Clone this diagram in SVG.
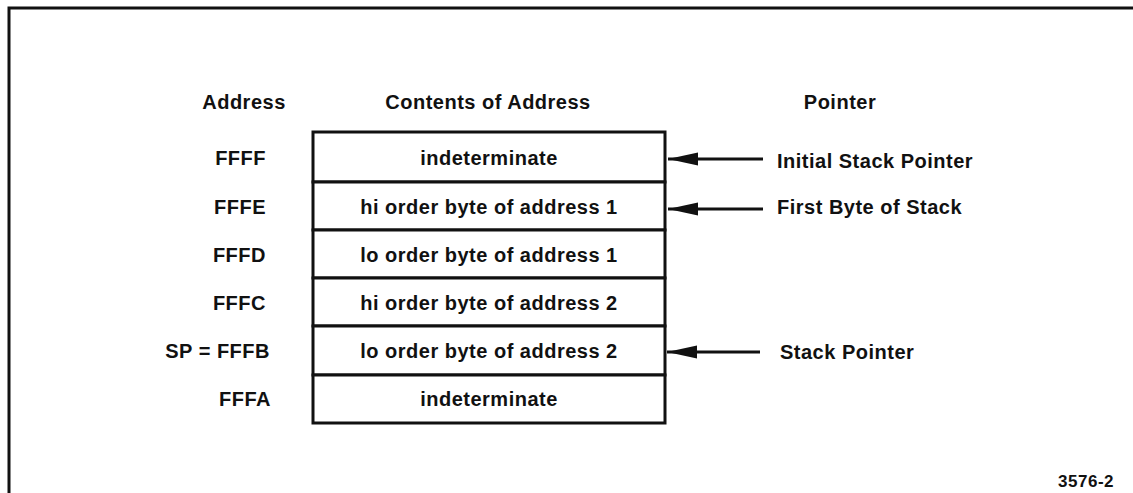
<svg xmlns="http://www.w3.org/2000/svg" width="1133" height="493" viewBox="0 0 1133 493">
<style>
text{font-family:"Liberation Sans",Arial,sans-serif;font-weight:bold;font-size:20px;letter-spacing:0.5px;fill:#111}
.c{text-anchor:middle}
.e{text-anchor:end}
.cell{fill:#fff;stroke:#111;stroke-width:3}
.ar{stroke:#111;stroke-width:3;fill:none}
</style>
<defs>
<marker id="head" markerWidth="30" markerHeight="14" refX="30" refY="7" orient="auto" markerUnits="userSpaceOnUse">
<path d="M30,7 L0,0.5 L0,13.5 Z" fill="#111"/>
</marker>
</defs>
<g id="frame">
<path d="M9,493 L9,8 L1133,8" fill="none" stroke="#111" stroke-width="3"/>
</g>
<g id="headers">
<text class="c" x="244" y="109">Address</text>
<text class="c" x="488" y="109">Contents of Address</text>
<text class="c" x="840" y="109">Pointer</text>
</g>
<g id="addresses">
<text class="e" x="266" y="165">FFFF</text>
<text class="e" x="266" y="214">FFFE</text>
<text class="e" x="266" y="262">FFFD</text>
<text class="e" x="266" y="310">FFFC</text>
<text class="e" x="270" y="358">SP = FFFB</text>
<text class="e" x="271" y="406">FFFA</text>
</g>
<g id="row1"><rect class="cell" x="313" y="132" width="352" height="50"/><text class="c" x="489" y="165">indeterminate</text></g>
<g id="row2"><rect class="cell" x="313" y="182" width="352" height="48"/><text class="c" x="489" y="214">hi order byte of address 1</text></g>
<g id="row3"><rect class="cell" x="313" y="230" width="352" height="48"/><text class="c" x="489" y="262">lo order byte of address 1</text></g>
<g id="row4"><rect class="cell" x="313" y="278" width="352" height="48"/><text class="c" x="489" y="310">hi order byte of address 2</text></g>
<g id="row5"><rect class="cell" x="313" y="326" width="352" height="49"/><text class="c" x="489" y="358">lo order byte of address 2</text></g>
<g id="row6"><rect class="cell" x="313" y="375" width="352" height="48"/><text class="c" x="489" y="406">indeterminate</text></g>
<g id="connectors">
<line class="ar" x1="763" y1="159" x2="668" y2="159" marker-end="url(#head)"/>
<line class="ar" x1="763" y1="209" x2="668" y2="209" marker-end="url(#head)"/>
<line class="ar" x1="760" y1="352" x2="667" y2="352" marker-end="url(#head)"/>
</g>
<g id="pointer-labels">
<text x="777" y="168">Initial Stack Pointer</text>
<text x="777" y="214">First Byte of Stack</text>
<text x="780" y="359">Stack Pointer</text>
</g>
<text class="e" x="1114" y="487" style="font-size:17px">3576-2</text>
</svg>
